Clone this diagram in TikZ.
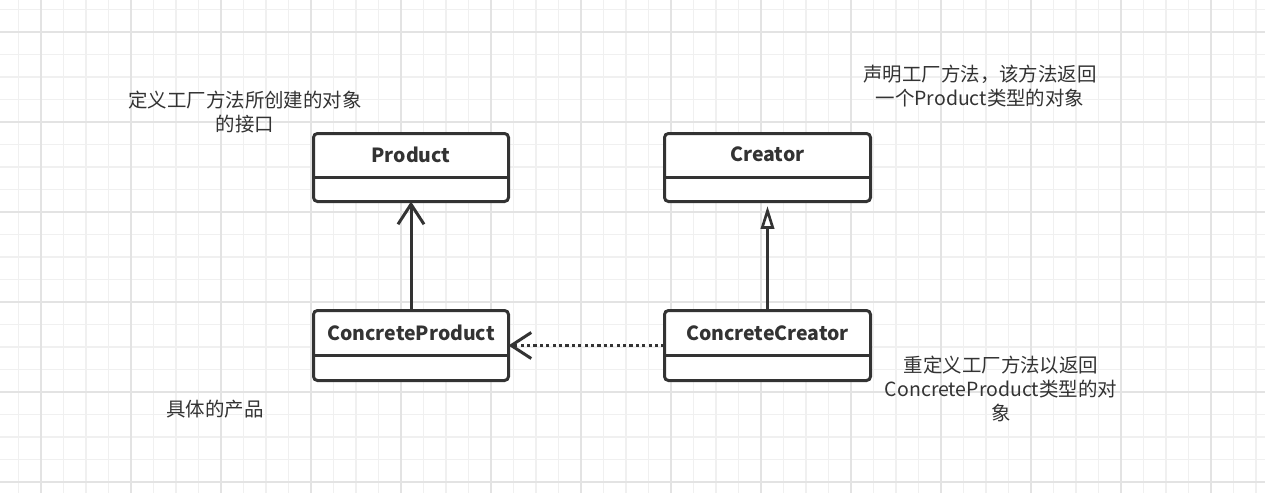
\documentclass[tikz,border=0pt]{standalone}
\usepackage{fontspec}
\setmainfont{Noto Sans CJK SC}
\usetikzlibrary{arrows.meta}
\definecolor{ink}{HTML}{333333}
\definecolor{gridminor}{HTML}{F0F0F0}
\definecolor{gridmajor}{HTML}{E3E3E3}
\begin{document}
\begin{tikzpicture}[x=0.75pt,y=-0.75pt,
  umlbox/.style={draw=ink, line width=2.25pt, rounded corners=3pt, fill=white, inner sep=0pt, outer sep=0pt},
  boxtitle/.style={font=\fontsize{14.6}{18}\selectfont\bfseries, text=ink, inner sep=0pt},
  note/.style={font=\fontsize{14.6}{18}\selectfont, text=ink, align=center, inner sep=0pt},
  conn/.style={draw=ink, line width=2.25pt},
  openarrow/.style={conn, -{Straight Barb[length=15pt, width=19.5pt]}},
  inherit/.style={conn, -{Triangle[open, length=17pt, width=10pt, line width=2pt]}},
  depend/.style={conn, dash pattern=on 2.4pt off 2.4pt, -{Straight Barb[length=15pt, width=19.5pt]}},
  minorline/.style={draw=gridminor, line width=0.9pt},
  majorline/.style={draw=gridmajor, line width=1.3pt}]
\useasboundingbox (0,0) rectangle (1265,493);
\fill[white] (0,0) rectangle (1265,493);
% grid
\foreach \i in {0,...,55} \draw[minorline] ({18.5+22.5*\i},0) -- ({18.5+22.5*\i},493);
\foreach \i in {0,...,21} \draw[minorline] (0,{9.5+22.5*\i}) -- (1265,{9.5+22.5*\i});
\foreach \i in {0,...,13} \draw[majorline] ({41+90*\i},0) -- ({41+90*\i},493);
\foreach \i in {0,...,5} \draw[majorline] (0,{32+90*\i}) -- (1265,{32+90*\i});

% boxes
\node[umlbox, minimum width=146.25pt, minimum height=51pt] (p) at (411,167.5) {};
\node[umlbox, minimum width=154.5pt, minimum height=51pt] (c) at (767.5,167.5) {};
\node[umlbox, minimum width=146.25pt, minimum height=52.5pt] (cp) at (411,345.5) {};
\node[umlbox, minimum width=154.5pt, minimum height=52.5pt] (cc) at (767.5,345.5) {};

\coordinate (topdiv) at (0,177);
\coordinate (botdiv) at (0,355.5);
\draw[conn] (p.west |- topdiv) -- (p.east |- topdiv);
\draw[conn] (c.west |- topdiv) -- (c.east |- topdiv);
\draw[conn] (cp.west |- botdiv) -- (cp.east |- botdiv);
\draw[conn] (cc.west |- botdiv) -- (cc.east |- botdiv);

\node[boxtitle] (pt) at (411,154.5) {Product};
\node[boxtitle] (ct) at (767.5,154.5) {Creator};
\node[boxtitle] (cpt) at (411,333) {ConcreteProduct};
\node[boxtitle] (cct) at (767.5,333) {ConcreteCreator};

% connectors
\draw[openarrow] (cp.north) -- (p.south);
\draw[inherit, shorten >=3.5pt] (cc.north) -- (c.south);
\draw[depend] (cc.west) -- (cp.east);

% notes
\node[note] (n1) at (245,112) {定义工厂方法所创建的对象\\的接口};
\node[note] (n2) at (980,86) {声明工厂方法，该方法返回\\一个Product类型的对象};
\node[note] (n3) at (1001,389) {重定义工厂方法以返回\\ConcreteProduct类型的对\\象};
\node[note] (n4) at (215,409) {具体的产品};
\end{tikzpicture}
\end{document}
